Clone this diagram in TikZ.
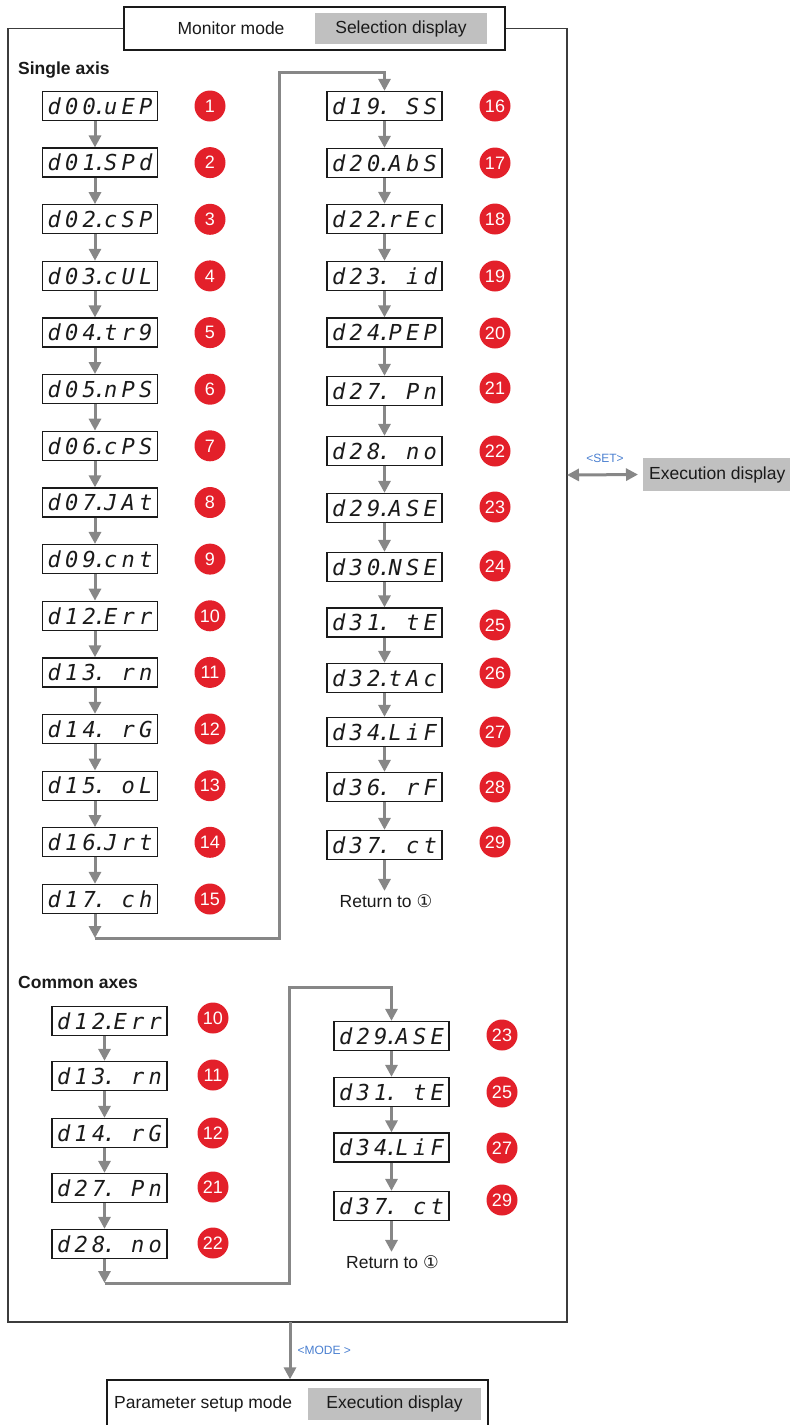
\documentclass[tikz,border=0pt]{standalone}
\usepackage{fontspec}
\setmainfont{Liberation Sans}
\newfontfamily\segfont{DejaVu Sans Mono}
\newfontfamily\symfont{DejaVu Sans}
\usetikzlibrary{arrows.meta,positioning}
\definecolor{ink}{HTML}{1A1A1A}
\definecolor{flowgray}{HTML}{878787}
\definecolor{panelgray}{HTML}{C0C0C0}
\definecolor{badgered}{HTML}{E3202A}
\definecolor{keyblue}{HTML}{4A7FD0}
\makeatletter
\def\seg@dot{.}
\newcommand{\segtxt}[1]{{\segfont\itshape\fontsize{22}{22}\selectfont\@tfor\seg@c:=#1\do{\ifx\seg@c\seg@dot\makebox[4pt]{\makebox[0pt]{.}}\else\makebox[17.5pt]{\seg@c}\fi}}}
\makeatother
\tikzset{
  every node/.style={font=\fontsize{17.5}{20}\selectfont,text=ink},
  lcd/.style={draw=ink,line width=1.3pt,fill=white,minimum width=115pt,minimum height=29pt,inner sep=0pt},
  badge/.style={circle,fill=badgered,text=white,minimum size=31pt,inner sep=0pt,font=\fontsize{18}{18}\selectfont},
  modebox/.style={draw=ink,line width=1.3pt,fill=white,minimum width=381pt,minimum height=43pt},
  panel/.style={fill=panelgray,inner sep=0pt},
  heading/.style={anchor=west,inner sep=0pt,font=\fontsize{17.5}{20}\selectfont\bfseries},
  keylbl/.style={text=keyblue,inner sep=1pt,font=\fontsize{12}{14}\selectfont},
  flow/.style={-{Triangle[width=12pt,length=12pt]},draw=flowgray,line width=3pt},
  frameline/.style={draw=ink!85,line width=1.3pt}
}
\begin{document}
\begin{tikzpicture}[x=1pt,y=-1pt]
  \useasboundingbox (0,0) rectangle (790,1425);

  \node[modebox] (topbox) at (314.5,28.5) {};
  \node (monlbl) at (231,28.5) {Monitor mode};
  \node[panel,minimum width=172pt,minimum height=31pt] (seldisp) at (401,28.5) {Selection display};
  \coordinate (fbl) at (8,1322);
  \coordinate (fbr) at (567,1322);
  \draw[frameline] (topbox.west) -| (fbl) -- (fbr) |- (topbox.east);

  \node[heading] (single) at (18,70) {Single axis};
  \node[heading] (common) at (18,982) {Common axes};

  \node[lcd] (d00) at (100,106) {\segtxt{d00.uEP}};
  \node[lcd] (d01) at (100,162.6) {\segtxt{d01.SPd}};
  \node[lcd] (d02) at (100,219.3) {\segtxt{d02.cSP}};
  \node[lcd] (d03) at (100,275.9) {\segtxt{d03.cUL}};
  \node[lcd] (d04) at (100,332.6) {\segtxt{d04.tr9}};
  \node[lcd] (d05) at (100,389.2) {\segtxt{d05.nPS}};
  \node[lcd] (d06) at (100,445.8) {\segtxt{d06.cPS}};
  \node[lcd] (d07) at (100,502.5) {\segtxt{d07.JAt}};
  \node[lcd] (d09) at (100,559.1) {\segtxt{d09.cnt}};
  \node[lcd] (d12) at (100,615.8) {\segtxt{d12.Err}};
  \node[lcd] (d13) at (100,672.4) {\segtxt{d13.~rn}};
  \node[lcd] (d14) at (100,729) {\segtxt{d14.~rG}};
  \node[lcd] (d15) at (100,785.7) {\segtxt{d15.~oL}};
  \node[lcd] (d16) at (100,842.3) {\segtxt{d16.Jrt}};
  \node[lcd] (d17) at (100,899) {\segtxt{d17.~ch}};

  \node[badge] (n1) at (210,106) {1};
  \node[badge] (n2) at (210,162.6) {2};
  \node[badge] (n3) at (210,219.3) {3};
  \node[badge] (n4) at (210,275.9) {4};
  \node[badge] (n5) at (210,332.6) {5};
  \node[badge] (n6) at (210,389.2) {6};
  \node[badge] (n7) at (210,445.8) {7};
  \node[badge] (n8) at (210,502.5) {8};
  \node[badge] (n9) at (210,559.1) {9};
  \node[badge] (n10) at (210,615.8) {10};
  \node[badge] (n11) at (210,672.4) {11};
  \node[badge] (n12) at (210,729) {12};
  \node[badge] (n13) at (210,785.7) {13};
  \node[badge] (n14) at (210,842.3) {14};
  \node[badge] (n15) at (210,899) {15};

  \node[lcd] (d19) at (384.5,106) {\segtxt{d19.~SS}};
  \node[lcd] (d20) at (384.5,163) {\segtxt{d20.AbS}};
  \node[lcd] (d22) at (384.5,219) {\segtxt{d22.rEc}};
  \node[lcd] (d23) at (384.5,276) {\segtxt{d23.~id}};
  \node[lcd] (d24) at (384.5,332.5) {\segtxt{d24.PEP}};
  \node[lcd] (d27) at (384.5,391) {\segtxt{d27.~Pn}};
  \node[lcd] (d28) at (384.5,451) {\segtxt{d28.~no}};
  \node[lcd] (d29) at (384.5,508) {\segtxt{d29.ASE}};
  \node[lcd] (d30) at (384.5,567) {\segtxt{d30.NSE}};
  \node[lcd] (d31) at (384.5,622.5) {\segtxt{d31.~tE}};
  \node[lcd] (d32) at (384.5,678) {\segtxt{d32.tAc}};
  \node[lcd] (d34) at (384.5,732) {\segtxt{d34.LiF}};
  \node[lcd] (d36) at (384.5,787) {\segtxt{d36.~rF}};
  \node[lcd] (d37) at (384.5,845) {\segtxt{d37.~ct}};

  \node[badge] (n16) at (495,106) {16};
  \node[badge] (n17) at (495,163) {17};
  \node[badge] (n18) at (495,219) {18};
  \node[badge] (n19) at (495,276) {19};
  \node[badge] (n20) at (495,333) {20};
  \node[badge] (n21) at (495,388) {21};
  \node[badge] (n22) at (495,451) {22};
  \node[badge] (n23) at (495,507) {23};
  \node[badge] (n24) at (495,566) {24};
  \node[badge] (n25) at (495,625) {25};
  \node[badge] (n26) at (495,673) {26};
  \node[badge] (n27) at (495,732) {27};
  \node[badge] (n28) at (495,787) {28};
  \node[badge] (n29) at (495,842) {29};

  \node (ret1) at (386,901) {Return to {\symfont ①}};

  \draw[flow] ([xshift=-5pt]d00.south) -- ([xshift=-5pt]d01.north);
  \draw[flow] ([xshift=-5pt]d01.south) -- ([xshift=-5pt]d02.north);
  \draw[flow] ([xshift=-5pt]d02.south) -- ([xshift=-5pt]d03.north);
  \draw[flow] ([xshift=-5pt]d03.south) -- ([xshift=-5pt]d04.north);
  \draw[flow] ([xshift=-5pt]d04.south) -- ([xshift=-5pt]d05.north);
  \draw[flow] ([xshift=-5pt]d05.south) -- ([xshift=-5pt]d06.north);
  \draw[flow] ([xshift=-5pt]d06.south) -- ([xshift=-5pt]d07.north);
  \draw[flow] ([xshift=-5pt]d07.south) -- ([xshift=-5pt]d09.north);
  \draw[flow] ([xshift=-5pt]d09.south) -- ([xshift=-5pt]d12.north);
  \draw[flow] ([xshift=-5pt]d12.south) -- ([xshift=-5pt]d13.north);
  \draw[flow] ([xshift=-5pt]d13.south) -- ([xshift=-5pt]d14.north);
  \draw[flow] ([xshift=-5pt]d14.south) -- ([xshift=-5pt]d15.north);
  \draw[flow] ([xshift=-5pt]d15.south) -- ([xshift=-5pt]d16.north);
  \draw[flow] ([xshift=-5pt]d16.south) -- ([xshift=-5pt]d17.north);
  \coordinate (s1) at (95,938);
  \coordinate (s2) at (279,72);
  \draw[flow] ([xshift=-5pt]d17.south) -- (s1);
  \draw[flow] (s1) -| (s2) -| (d19.north);

  \draw[flow] (d19) -- (d20);
  \draw[flow] (d20) -- (d22);
  \draw[flow] (d22) -- (d23);
  \draw[flow] (d23) -- (d24);
  \draw[flow] (d24) -- (d27);
  \draw[flow] (d27) -- (d28);
  \draw[flow] (d28) -- (d29);
  \draw[flow] (d29) -- (d30);
  \draw[flow] (d30) -- (d31);
  \draw[flow] (d31) -- (d32);
  \draw[flow] (d32) -- (d34);
  \draw[flow] (d34) -- (d36);
  \draw[flow] (d36) -- (d37);
  \draw[flow] (d37) -- (d37 |- ret1.north);

  \node[lcd] (c12) at (109.5,1021) {\segtxt{d12.Err}};
  \node[lcd] (c13) at (109.5,1076) {\segtxt{d13.~rn}};
  \node[lcd] (c14) at (109.5,1133) {\segtxt{d14.~rG}};
  \node[lcd] (c27) at (109.5,1188) {\segtxt{d27.~Pn}};
  \node[lcd] (c28) at (109.5,1244) {\segtxt{d28.~no}};

  \node[badge] (m10) at (213,1018) {10};
  \node[badge] (m11) at (213,1075) {11};
  \node[badge] (m12) at (213,1133) {12};
  \node[badge] (m21) at (213,1187) {21};
  \node[badge] (m22) at (213,1243) {22};

  \node[lcd] (c29) at (391.5,1036) {\segtxt{d29.ASE}};
  \node[lcd] (c31) at (391.5,1092) {\segtxt{d31.~tE}};
  \node[lcd] (c34) at (391.5,1147.5) {\segtxt{d34.LiF}};
  \node[lcd] (c37) at (391.5,1206) {\segtxt{d37.~ct}};

  \node[badge] (m23) at (502,1035) {23};
  \node[badge] (m25) at (502,1092) {25};
  \node[badge] (m27) at (502,1148) {27};
  \node[badge] (m29) at (502,1200) {29};

  \node (ret2) at (392.5,1262) {Return to {\symfont ①}};

  \draw[flow] ([xshift=-5pt]c12.south) -- ([xshift=-5pt]c13.north);
  \draw[flow] ([xshift=-5pt]c13.south) -- ([xshift=-5pt]c14.north);
  \draw[flow] ([xshift=-5pt]c14.south) -- ([xshift=-5pt]c27.north);
  \draw[flow] ([xshift=-5pt]c27.south) -- ([xshift=-5pt]c28.north);
  \coordinate (t1) at (104.5,1283);
  \coordinate (t2) at (289,987);
  \draw[flow] ([xshift=-5pt]c28.south) -- (t1);
  \draw[flow] (t1) -| (t2) -| (c29.north);
  \draw[flow] (c29) -- (c31);
  \draw[flow] (c31) -- (c34);
  \draw[flow] (c34) -- (c37);
  \draw[flow] (c37) -- (c37 |- ret2.north);

  \node[panel,anchor=west,inner xsep=6pt,minimum height=33pt] (execdisp) at (643,474.5) {Execution display};
  \coordinate (fset) at (567,475);
  \draw[flow,{Triangle[width=12pt,length=12pt]}-{Triangle[width=12pt,length=12pt]},shorten >=5pt] (fset) -- node[keylbl,above=10pt]{<SET>} (execdisp.west);

  \node[modebox,minimum height=50pt] (parbox) at (297.5,1405) {};
  \node[anchor=west,inner sep=0pt] (parlbl) at (114,1404) {Parameter setup mode};
  \node[panel,minimum width=173pt,minimum height=32pt] (pardisp) at (394.5,1404) {Execution display};
  \coordinate (fm) at (290,1322);
  \draw[flow] (fm) -- node[keylbl,right=5pt]{<MODE >} (fm |- parbox.north);
\end{tikzpicture}
\end{document}
